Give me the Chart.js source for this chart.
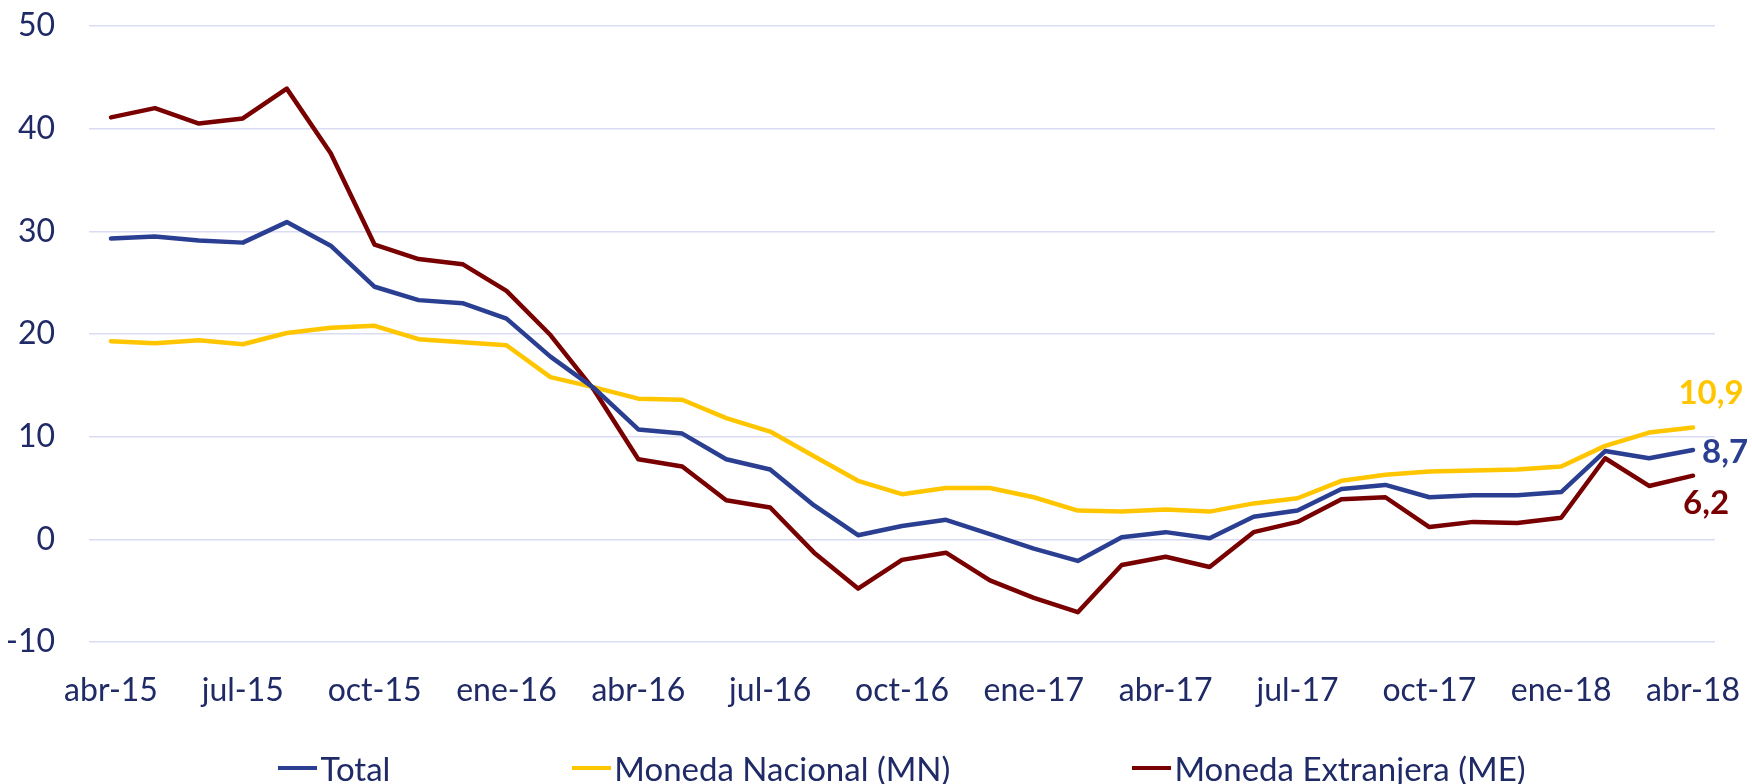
<!DOCTYPE html>
<html>
<head>
<meta charset="utf-8">
<script src="https://cdn.jsdelivr.net/npm/chart.js@4.4.1/dist/chart.umd.min.js"></script>
<style>
  html, body { margin: 0; padding: 0; background: #ffffff; }
  .wrap { position: relative; width: 1752px; height: 784px; }
  #legend {
    position: absolute; left: 52px; top: 748px; width: 1700px; height: 40px;
    display: flex; justify-content: center; align-items: center; gap: 182px;
    font-family: Lato, "Open Sans", sans-serif; font-size: 33px; color: #1F2A66;
  }
  .item { display: flex; align-items: center; white-space: nowrap; }
  .swatch { display: inline-block; width: 39px; height: 4px; margin-right: 3px; }
</style>
</head>
<body>
<div class="wrap">
  <canvas id="creditChart" width="1752" height="784"></canvas>
  <div id="legend"></div>
</div>
<script>
// monthly series, abr-15 .. abr-18
const months = [
  'abr-15', 'may-15', 'jun-15', 'jul-15', 'ago-15', 'sep-15', 'oct-15', 'nov-15', 'dic-15',
  'ene-16', 'feb-16', 'mar-16', 'abr-16', 'may-16', 'jun-16', 'jul-16', 'ago-16', 'sep-16',
  'oct-16', 'nov-16', 'dic-16', 'ene-17', 'feb-17', 'mar-17', 'abr-17', 'may-17', 'jun-17',
  'jul-17', 'ago-17', 'sep-17', 'oct-17', 'nov-17', 'dic-17', 'ene-18', 'feb-18', 'mar-18', 'abr-18'
];

const total = [
  29.3, 29.5, 29.1, 28.9, 30.9, 28.6, 24.6, 23.3, 23.0,
  21.5, 17.8, 14.7, 10.7, 10.3, 7.8, 6.8, 3.3, 0.4,
  1.3, 1.9, 0.5, -0.9, -2.1, 0.2, 0.7, 0.1, 2.2,
  2.8, 4.9, 5.3, 4.1, 4.3, 4.3, 4.6, 8.6, 7.9, 8.7
];

const monedaNacional = [
  19.3, 19.1, 19.4, 19.0, 20.1, 20.6, 20.8, 19.5, 19.2,
  18.9, 15.8, 14.8, 13.7, 13.6, 11.8, 10.5, 8.1, 5.7,
  4.4, 5.0, 5.0, 4.1, 2.8, 2.7, 2.9, 2.7, 3.5,
  4.0, 5.7, 6.3, 6.6, 6.7, 6.8, 7.1, 9.1, 10.4, 10.9
];

const monedaExtranjera = [
  41.1, 42.0, 40.5, 41.0, 43.9, 37.6, 28.7, 27.3, 26.8,
  24.2, 19.9, 14.5, 7.8, 7.1, 3.8, 3.1, -1.3, -4.8,
  -2.0, -1.3, -4.0, -5.7, -7.1, -2.5, -1.7, -2.7, 0.7,
  1.7, 3.9, 4.1, 1.2, 1.7, 1.6, 2.1, 7.9, 5.2, 6.2
];

const yTicks = { min: -10, max: 50, step: 10 };

const NAVY = '#1F2A66';
const BLUE = '#2B3F92';
const YELLOW = '#FFC600';
const RED = '#790000';

// last value written next to the end of each line
const endLabels = {
  id: 'endLabels',
  afterDatasetsDraw(chart) {
    const ctx = chart.ctx;
    const offsets = [
      { dx: 32, dy: 2 },    // Total
      { dx: 18, dy: -34 },  // MN
      { dx: 13, dy: 28 }    // ME
    ];
    ctx.save();
    ctx.font = 'bold 33px Lato, "Open Sans", sans-serif';
    ctx.textAlign = 'center';
    ctx.textBaseline = 'middle';
    chart.data.datasets.forEach((ds, i) => {
      const meta = chart.getDatasetMeta(i);
      const last = meta.data[meta.data.length - 1];
      const value = ds.data[ds.data.length - 1];
      ctx.fillStyle = ds.borderColor;
      ctx.fillText(value.toFixed(1).replace('.', ','), last.x + offsets[i].dx, last.y + offsets[i].dy);
    });
    ctx.restore();
  }
};

const ctx = document.getElementById('creditChart').getContext('2d');
const chart = new Chart(ctx, {
  type: 'line',
  data: {
    labels: months,
    datasets: [
      { label: 'Total', data: total, borderColor: BLUE, backgroundColor: BLUE },
      { label: 'Moneda Nacional (MN)', data: monedaNacional, borderColor: YELLOW, backgroundColor: YELLOW },
      { label: 'Moneda Extranjera (ME)', data: monedaExtranjera, borderColor: RED, backgroundColor: RED }
    ]
  },
  options: {
    responsive: false,
    animation: false,
    layout: { padding: { top: 26, right: 37, bottom: 72, left: 0 } },
    elements: {
      line: { borderWidth: 4.5, tension: 0, borderJoinStyle: 'round', borderCapStyle: 'round' },
      point: { radius: 0 }
    },
    plugins: {
      legend: { display: false },
      tooltip: { enabled: false }
    },
    scales: {
      x: {
        offset: true,
        grid: { display: false },
        border: { display: false },
        afterFit: (scale) => {
          scale.height = 70;
          scale.paddingLeft = 0;
          scale.paddingRight = 0;
        },
        ticks: {
          autoSkip: false,
          maxRotation: 0,
          padding: 21,
          color: NAVY,
          font: { family: 'Lato, "Open Sans", sans-serif', size: 32 },
          callback: function (val, index) {
            return index % 3 === 0 ? this.getLabelForValue(val) : '';
          }
        }
      },
      y: {
        min: yTicks.min,
        max: yTicks.max,
        grid: { color: '#D9DCF3', lineWidth: 1.5, drawTicks: false },
        border: { display: false },
        afterFit: (scale) => {
          scale.width = 89;
          scale.paddingTop = 0;
          scale.paddingBottom = 0;
        },
        ticks: {
          stepSize: yTicks.step,
          padding: 34,
          color: NAVY,
          font: { family: 'Lato, "Open Sans", sans-serif', size: 32 }
        }
      }
    }
  },
  plugins: [endLabels]
});

// legend in html, spread out like the original
const legend = document.getElementById('legend');
chart.data.datasets.forEach(ds => {
  const item = document.createElement('div');
  item.className = 'item';
  const sw = document.createElement('span');
  sw.className = 'swatch';
  sw.style.background = ds.borderColor;
  item.appendChild(sw);
  item.appendChild(document.createTextNode(ds.label));
  legend.appendChild(item);
});
</script>
</body>
</html>
